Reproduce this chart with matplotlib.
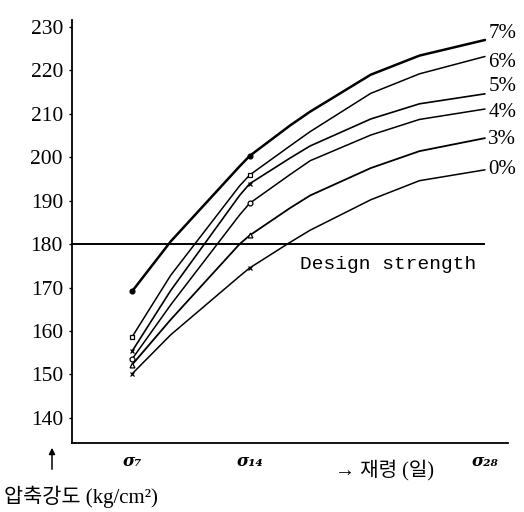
import matplotlib
matplotlib.use("Agg")
import matplotlib.pyplot as plt

# ---- data ----
days = [7, 9.3, 13.4, 14, 16.4, 17.6, 21.2, 24.1, 28]
series_labels = ["7%", "6%", "5%", "4%", "3%", "0%"]
s7 = [169.1, 180.6, 197.9, 200.3, 207.3, 210.5, 219.0, 223.4, 227.0]
s6 = [158.6, 172.8, 193.4, 195.9, 202.6, 205.9, 214.7, 219.2, 223.2]
s5 = [155.3, 169.3, 191.2, 193.9, 199.8, 202.6, 208.8, 212.3, 214.6]
s4 = [153.5, 166.0, 186.7, 189.4, 196.0, 199.2, 205.1, 208.7, 211.1]
s3 = [152.2, 162.6, 180.0, 182.0, 188.3, 191.2, 197.5, 201.4, 204.4]
s0 = [150.1, 159.1, 172.6, 174.5, 180.4, 183.2, 190.2, 194.6, 197.1]
series = [s7, s6, s5, s4, s3, s0]
label_y = [228.6, 221.7, 216.2, 210.2, 204.0, 197.1]
design_strength = 180
x_tick_days = [7, 14, 28]
x_tick_labels = ["σ₇", "σ₁₄", "σ₂₈"]
y_ticks = [140, 150, 160, 170, 180, 190, 200, 210, 220, 230]

markers = ["o", "s", "x", "o", "^", "x"]
mfc = ["black", "white", "black", "white", "white", "black"]
lws = [1.8, 1.1, 1.2, 1.1, 1.3, 1.1]

fig = plt.figure(figsize=(5.24, 5.12), dpi=100)
ax = fig.add_axes([72 / 524, 69 / 512, 436 / 524, 423 / 512])

for vals, m, fc, lw in zip(series, markers, mfc, lws):
    ax.plot(days, vals, color="black", lw=lw, marker=m, markevery=[0, 3],
            markersize=3.5, markerfacecolor=fc, markeredgecolor="black",
            markeredgewidth=0.9, solid_capstyle="round", solid_joinstyle="round")

for lab, ly in zip(series_labels, label_y):
    ax.text(28.2, ly, lab, fontsize=15, family="Liberation Serif",
            va="center", ha="left", clip_on=False)

ax.hlines(design_strength, 3.43, 28, color="black", lw=1.4)
ax.text(17.0, 175.3, "Design strength", fontsize=14, family="Liberation Mono",
        va="center", ha="left")

ax.set_xlim(3.43, 29.37)
ax.set_ylim(134.2, 231.6)
ax.spines["top"].set_visible(False)
ax.spines["right"].set_visible(False)
ax.spines["left"].set_linewidth(1.3)
ax.spines["bottom"].set_linewidth(1.3)

ax.set_yticks(y_ticks)
ax.set_yticklabels([str(v) for v in y_ticks], family="Liberation Serif", fontsize=15.5)
ax.tick_params(axis="y", length=2.5, width=1, direction="out", pad=4)
ax.set_xticks(x_tick_days)
ax.set_xticklabels(x_tick_labels, family="DejaVu Serif", fontsize=12,
                   fontweight="bold", style="italic")
ax.tick_params(axis="x", length=0, pad=7)

# axis captions below the plot
fig.text(4 / 524, 1 - 497 / 512, "압축강도 (kg/cm²)",
         family=["Liberation Serif", "Noto Sans CJK KR"], fontsize=15,
         va="center", ha="left")
fig.text(335 / 524, 1 - 470 / 512, "→ 재령 (일)",
         family=["Liberation Serif", "Noto Sans CJK KR"], fontsize=14.5,
         va="center", ha="left")
fig.add_artist(matplotlib.patches.FancyArrowPatch(
    (52 / 524, 1 - 472 / 512), (52 / 524, 1 - 445 / 512),
    transform=fig.transFigure, arrowstyle="-|>", mutation_scale=9,
    color="black", lw=1.1))

fig.savefig("out.png", dpi=100)
